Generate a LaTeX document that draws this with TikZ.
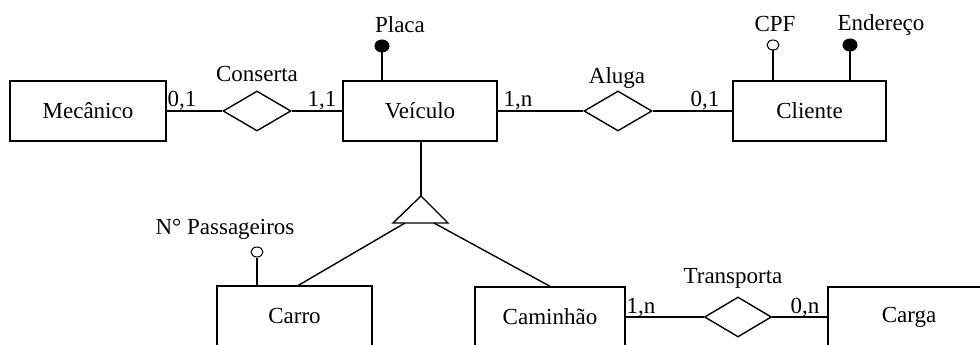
\documentclass[tikz,border=0pt]{standalone}
\usepackage{fontspec}
\setmainfont{Liberation Serif}
\usetikzlibrary{shapes.geometric}

\begin{document}
\begin{tikzpicture}[x=1pt,y=-1pt,line width=1.4pt,
        every node/.style={font=\fontsize{23}{27}\selectfont},
        entidade/.style={draw,rectangle,minimum height=60pt,inner sep=0pt},
        relacao/.style={draw,diamond,minimum width=68pt,minimum height=40pt,inner sep=0pt},
        chave/.style={draw,fill=black,ellipse,minimum width=14pt,minimum height=12pt,inner sep=0pt,line width=1pt},
        atrib/.style={draw,fill=white,ellipse,minimum width=12pt,minimum height=10pt,inner sep=0pt,line width=1pt}]
        \useasboundingbox (0,0) rectangle (980,345);
        \clip (0,0) rectangle (980,345);

        % entidades
        \node[entidade,minimum width=156pt] (mecanico) at (88,111) {Mecânico};
        \node[entidade,minimum width=154pt] (veiculo) at (420,111) {Veículo};
        \node[entidade,minimum width=153pt] (cliente) at (809.5,111) {Cliente};
        \node[entidade,minimum width=155pt] (carro) at (294.5,316) {Carro};
        \node[entidade,minimum width=150pt] (caminhao) at (550,317) {Caminhão};
        \node[entidade,minimum width=162pt] (carga) at (909,317) {Carga};

        % relacionamentos
        \node[relacao] (conserta) at (257,111) {};
        \node[relacao] (aluga) at (618,111) {};
        \node[relacao,minimum width=67pt] (transporta) at (738,317) {};
        \node (nconserta) at (257,74) {Conserta};
        \node (naluga) at (617,78) {Aluga};
        \node (ntransporta) at (733,278) {Transporta};

        \draw (mecanico) -- (conserta) -- (veiculo);
        \draw (veiculo) -- (aluga) -- (cliente);
        \draw (caminhao) -- (transporta) -- (carga);

        % cardinalidades
        \node (c1) at (182,101) {0,1};
        \node (c2) at (322,101) {1,1};
        \node (c3) at (518,101) {1,n};
        \node (c4) at (705,101) {0,1};
        \node (c5) at (641,308) {1,n};
        \node (c6) at (805,308) {0,n};

        % atributos
        \node[chave] (placa) at (382,46) {};
        \node[atrib] (cpf) at (773,45) {};
        \node[chave] (endereco) at (850,45) {};
        \node[atrib] (passag) at (257,252) {};
        \draw (placa) -- (placa |- veiculo.north);
        \draw (cpf) -- (cpf |- cliente.north);
        \draw (endereco) -- (endereco |- cliente.north);
        \draw (passag) -- (passag |- carro.north);
        \node (nplaca) at (400,25) {Placa};
        \node (ncpf) at (775,24) {CPF};
        \node (nendereco) at (881,25) {Endereço};
        \node (npassag) at (225,229) {N° Passageiros};

        % especializacao
        \coordinate (tapex) at (421,196);
        \coordinate (tesq) at (393,223);
        \coordinate (tdir) at (448,223);
        \coordinate (tcarro) at (405,223);
        \coordinate (tcam) at (434,223);
        \draw (tapex |- veiculo.south) -- (tapex);
        \draw (tapex) -- (tesq) -- (tdir) -- cycle;
        \draw (tcarro) -- ([xshift=4pt]carro.north);
        \draw (tcam) -- (caminhao.north);
    \end{tikzpicture}
\end{document}
